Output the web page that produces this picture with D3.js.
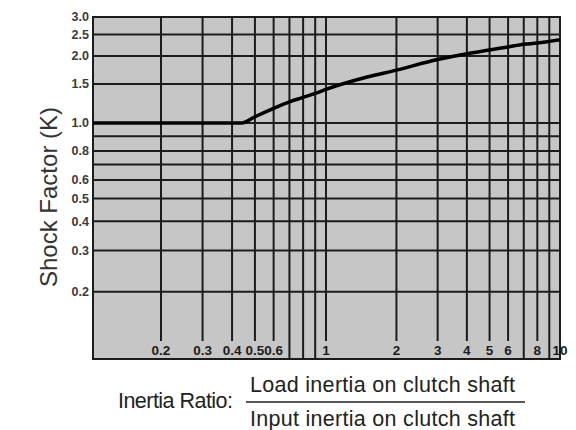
<!DOCTYPE html>
<html>
<head>
<meta charset="utf-8">
<script src="https://cdn.jsdelivr.net/npm/d3@7"></script>
<style>
  body { margin: 0; background: #fff; }
  svg { display: block; font-family: "Liberation Sans", Arial, Helvetica, sans-serif; }
</style>
</head>
<body>
<script>
// Curve values
const ratioValues = [0.1, 0.44, 0.5, 0.6, 0.7, 0.8, 0.9, 1, 1.5, 2, 3, 4, 5, 6, 7, 8, 9, 10];
const shockValues = [1.0, 1.0, 1.067, 1.164, 1.246, 1.304, 1.359, 1.417, 1.61, 1.73, 1.93, 2.05, 2.13, 2.20, 2.26, 2.29, 2.33, 2.37];

// Grid lines and labels
const xGridValues = [0.2, 0.3, 0.4, 0.5, 0.6, 0.7, 0.8, 0.9, 1, 2, 3, 4, 5, 6, 7, 8, 9];
const xTickValues = [0.2, 0.3, 0.4, 0.5, 0.6, 1, 2, 3, 4, 5, 6, 8, 10];
const xTickLabels = ["0.2", "0.3", "0.4", "0.5", "0.6", "1", "2", "3", "4", "5", "6", "8", "10"];
const yGridValues = [0.2, 0.3, 0.4, 0.5, 0.6, 0.7, 0.8, 0.9, 1.0, 1.5, 2.0, 2.5];
const yTickValues = [3.0, 2.5, 2.0, 1.5, 1.0, 0.8, 0.6, 0.5, 0.4, 0.3, 0.2];
const yTickLabels = ["3.0", "2.5", "2.0", "1.5", "1.0", "0.8", "0.6", "0.5", "0.4", "0.3", "0.2"];

const svgWidth = 576;
const svgHeight = 430;
const plotLeft = 93, plotRight = 560, plotTop = 17, plotBottom = 359;

// log scales, piecewise because the printed grid is not perfectly even
const xScale = d3.scaleLog()
                 .domain([0.1, 0.2, 1, 10])
                 .range([plotLeft, 161, 326, plotRight]);

const yScale = d3.scaleLog()
                 .domain([0.1, 0.2, 0.6, 0.8, 1, 3])
                 .range([plotBottom, 291.7, 180, 151, 123, plotTop]);

const svg = d3.select("body")
              .append("svg")
              .attr("width", svgWidth)
              .attr("height", svgHeight);

// grey plot area
svg.append("rect")
   .attr("x", plotLeft)
   .attr("y", plotTop)
   .attr("width", plotRight - plotLeft)
   .attr("height", plotBottom - plotTop)
   .attr("fill", "#c6c6c6");

// horizontal grid lines
svg.selectAll(".hgrid")
   .data(yGridValues)
   .enter()
   .append("line")
   .attr("class", "hgrid")
   .attr("x1", plotLeft)
   .attr("x2", plotRight)
   .attr("y1", (d) => yScale(d))
   .attr("y2", (d) => yScale(d))
   .attr("stroke", "#1c1c1c")
   .attr("stroke-width", 2);

// vertical grid lines, labelled ones stop above their label
svg.selectAll(".vgrid")
   .data(xGridValues)
   .enter()
   .append("line")
   .attr("class", "vgrid")
   .attr("x1", (d) => xScale(d))
   .attr("x2", (d) => xScale(d))
   .attr("y1", plotTop)
   .attr("y2", (d) => xTickValues.includes(d) ? 341 : plotBottom)
   .attr("stroke", "#1c1c1c")
   .attr("stroke-width", 2);

// border
svg.append("rect")
   .attr("x", plotLeft)
   .attr("y", plotTop)
   .attr("width", plotRight - plotLeft)
   .attr("height", plotBottom - plotTop)
   .attr("fill", "none")
   .attr("stroke", "#1c1c1c")
   .attr("stroke-width", 2);

// shock factor curve
const line = d3.line()
               .x((d, i) => xScale(ratioValues[i]))
               .y((d) => yScale(d))
               .curve(d3.curveMonotoneX);

svg.append("path")
   .datum(shockValues)
   .attr("d", line)
   .attr("fill", "none")
   .attr("stroke", "#000")
   .attr("stroke-width", 3.5)
   .attr("stroke-linejoin", "round");

// x labels inside the plot
svg.selectAll(".xlabel")
   .data(xTickValues)
   .enter()
   .append("text")
   .attr("class", "xlabel")
   .attr("x", (d) => xScale(d))
   .attr("y", 355)
   .attr("text-anchor", "middle")
   .attr("font-size", "13.5px")
   .attr("font-weight", "bold")
   .attr("fill", "#1c1c1c")
   .text((d, i) => xTickLabels[i]);

// y labels
svg.selectAll(".ylabel")
   .data(yTickValues)
   .enter()
   .append("text")
   .attr("class", "ylabel")
   .attr("x", 89)
   .attr("y", (d) => yScale(d))
   .attr("dy", "0.35em")
   .attr("text-anchor", "end")
   .attr("font-size", "12.5px")
   .attr("font-weight", "bold")
   .attr("fill", "#3a3a3a")
   .text((d, i) => yTickLabels[i]);

// y title
svg.append("text")
   .attr("transform", "translate(57,197) rotate(-90)")
   .attr("text-anchor", "middle")
   .attr("font-size", "24px")
   .attr("fill", "#333")
   .text("Shock Factor (K)");

// x title as a fraction
svg.append("text")
   .attr("x", 118)
   .attr("y", 408)
   .attr("font-size", "21.5px")
   .attr("textLength", 115)
   .attr("fill", "#222")
   .text("Inertia Ratio:");

svg.append("text")
   .attr("x", 250)
   .attr("y", 392)
   .attr("font-size", "21.5px")
   .attr("textLength", 265)
   .attr("fill", "#222")
   .text("Load inertia on clutch shaft");

svg.append("line")
   .attr("x1", 246)
   .attr("x2", 525)
   .attr("y1", 402)
   .attr("y2", 402)
   .attr("stroke", "#222")
   .attr("stroke-width", 1.5);

svg.append("text")
   .attr("x", 250)
   .attr("y", 426)
   .attr("font-size", "21.5px")
   .attr("textLength", 265)
   .attr("fill", "#222")
   .text("Input inertia on clutch shaft");
</script>
</body>
</html>
